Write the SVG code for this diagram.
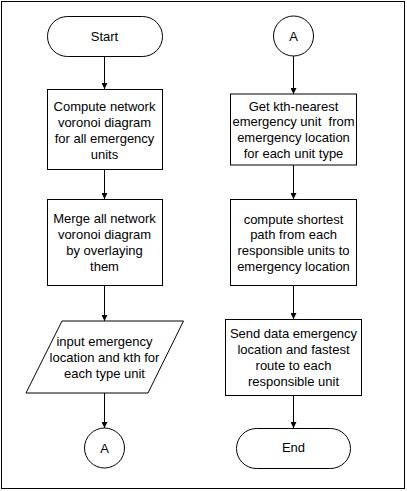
<svg xmlns="http://www.w3.org/2000/svg" width="407" height="491" viewBox="0 0 407 491">
<style>
.s{fill:#fff;stroke:#000;stroke-width:1}
.t{font-family:"Liberation Sans",Arial,sans-serif;font-size:13px;fill:#000;text-anchor:middle}
.c{fill:none;stroke:#000;stroke-width:1}
</style>
<defs>
<marker id="ah" viewBox="0 0 6 6" refX="6" refY="3" markerWidth="6" markerHeight="6" markerUnits="userSpaceOnUse" orient="auto">
<path d="M0,0 L6,3 L0,6 Z" fill="#000"/>
</marker>
</defs>
<rect x="0" y="0" width="407" height="491" fill="#fff"/>
<rect x="1.5" y="1.5" width="403" height="487" fill="#fff" stroke="#000"/>
<g id="connectors">
<line class="c" x1="104.5" y1="56" x2="104.5" y2="89" marker-end="url(#ah)"/>
<line class="c" x1="104.5" y1="169" x2="104.5" y2="199" marker-end="url(#ah)"/>
<line class="c" x1="104.5" y1="285" x2="104.5" y2="321" marker-end="url(#ah)"/>
<line class="c" x1="104.5" y1="393" x2="104.5" y2="428" marker-end="url(#ah)"/>
<line class="c" x1="293.5" y1="56" x2="293.5" y2="94" marker-end="url(#ah)"/>
<line class="c" x1="293.5" y1="165" x2="293.5" y2="199" marker-end="url(#ah)"/>
<line class="c" x1="293.5" y1="285" x2="293.5" y2="319" marker-end="url(#ah)"/>
<line class="c" x1="293.5" y1="395" x2="293.5" y2="428" marker-end="url(#ah)"/>
</g>
<g id="start">
<rect class="s" x="47.5" y="16.5" width="115" height="40" rx="20"/>
<text class="t" x="104.5" y="40.5">Start</text>
</g>
<g id="compute-voronoi">
<rect class="s" x="47.5" y="89.5" width="115" height="80"/>
<text class="t" x="104.5"><tspan x="104.5" y="110.5">Compute network</tspan><tspan x="104.5" y="126.5">voronoi diagram</tspan><tspan x="104.5" y="142.5">for all emergency</tspan><tspan x="104.5" y="158.5">units</tspan></text>
</g>
<g id="merge-voronoi">
<rect class="s" x="47.5" y="199.5" width="115" height="86"/>
<text class="t" x="104.5"><tspan x="104.5" y="223">Merge all network</tspan><tspan x="104.5" y="239">voronoi diagram</tspan><tspan x="104.5" y="255">by overlaying</tspan><tspan x="104.5" y="271">them</tspan></text>
</g>
<g id="input">
<polygon class="s" points="62,321 183.5,321 148,393 26,393"/>
<text class="t" x="104.5"><tspan x="104.5" y="346">input emergency</tspan><tspan x="104.5" y="362">location and kth for</tspan><tspan x="104.5" y="378">each type unit</tspan></text>
</g>
<g id="connector-a-out">
<circle class="s" cx="104.5" cy="448" r="20"/>
<text class="t" x="104.5" y="452.5">A</text>
</g>
<g id="connector-a-in">
<circle class="s" cx="293.5" cy="36" r="20"/>
<text class="t" x="293.5" y="40.5">A</text>
</g>
<g id="get-kth">
<rect class="s" x="230.5" y="94" width="126" height="71"/>
<text class="t" x="293.5" xml:space="preserve"><tspan x="293.5" y="111">Get kth-nearest</tspan><tspan x="293.5" y="126">emergency unit  from</tspan><tspan x="293.5" y="142">emergency location</tspan><tspan x="293.5" y="158">for each unit type</tspan></text>
</g>
<g id="shortest-path">
<rect class="s" x="230.5" y="199.5" width="126" height="86"/>
<text class="t" x="293.5"><tspan x="293.5" y="223.5">compute shortest</tspan><tspan x="293.5" y="239">path from each</tspan><tspan x="293.5" y="255">responsible units to</tspan><tspan x="293.5" y="271">emergency location</tspan></text>
</g>
<g id="send-data">
<rect class="s" x="225.5" y="319.5" width="136" height="76"/>
<text class="t" x="293.5"><tspan x="293.5" y="337.5">Send data emergency</tspan><tspan x="293.5" y="353.5">location and fastest</tspan><tspan x="293.5" y="369.5">route to each</tspan><tspan x="293.5" y="385.5">responsible unit</tspan></text>
</g>
<g id="end">
<rect class="s" x="236.5" y="428.5" width="114" height="40" rx="20"/>
<text class="t" x="293.5" y="451.5">End</text>
</g>
</svg>
